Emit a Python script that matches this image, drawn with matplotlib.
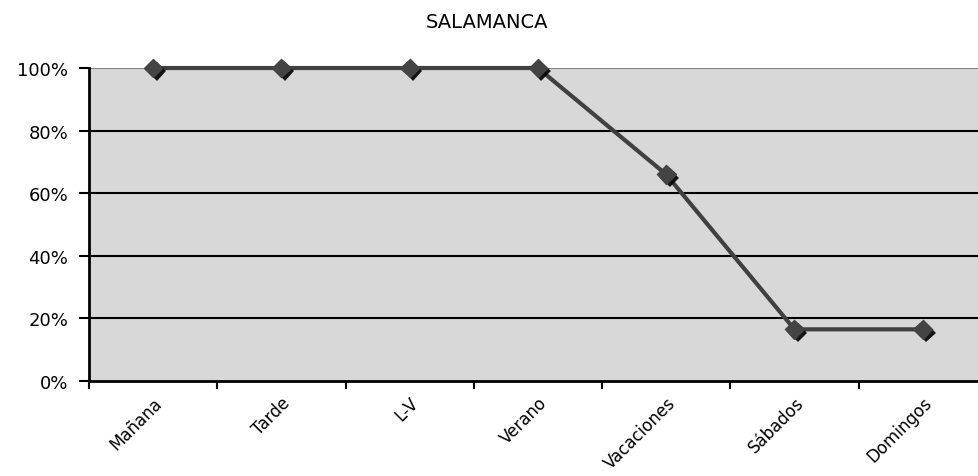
import matplotlib
matplotlib.use("Agg")
import matplotlib.pyplot as plt
import matplotlib.patheffects as pe
import numpy as np

# data
categories = ["Mañana", "Tarde", "L-V", "Verano", "Vacaciones", "Sábados", "Domingos"]
values = [1.00, 1.00, 1.00, 1.00, 0.66, 0.165, 0.165]
yticks = [0.0, 0.2, 0.4, 0.6, 0.8, 1.0]
ytick_labels = ["0%", "20%", "40%", "60%", "80%", "100%"]

plt.rcParams['font.family'] = ['DejaVu Sans']

fig = plt.figure(figsize=(9.79, 4.77), dpi=100)
ax = fig.add_axes([0.0909, 0.1992, 0.9171, 0.6561])
ax.set_facecolor("#d8d8d8")

x = np.arange(len(categories))
ax.set_xlim(-0.5, len(categories) - 0.5)
ax.set_ylim(0, 1.0)

for y in yticks[1:-1]:
    ax.axhline(y, color="black", lw=1.5, zorder=1)
ax.axhline(1.0, color="#808080", lw=1.5, zorder=1)

shadow = [pe.SimplePatchShadow(offset=(2.5, -2.5), shadow_rgbFace="black", alpha=0.9), pe.Normal()]
ax.plot(x, values, color="#404040", lw=3, zorder=3, clip_on=False)
ax.plot(x, values, ls="none", marker="D", ms=9.5, color="#444444", mec="#444444",
        zorder=4, clip_on=False, path_effects=shadow)

for side in ["top", "right"]:
    ax.spines[side].set_visible(False)
for side in ["left", "bottom"]:
    ax.spines[side].set_linewidth(2)
    ax.spines[side].set_color("black")

ax.set_yticks(yticks)
ax.set_yticklabels(ytick_labels, fontsize=13)
ax.tick_params(axis="y", length=7, width=1.5, pad=8)

ax.set_xticks(x)
ax.set_xticklabels(categories, rotation=45, ha="right", rotation_mode="anchor", fontsize=12)
ax.tick_params(axis="x", which="major", length=0, pad=9)
ax.set_xticks(np.arange(len(categories) + 1) - 0.5, minor=True)
ax.tick_params(axis="x", which="minor", length=6, width=1.5, direction="out")

fig.text(0.497, 0.952, "SALAMANCA", ha="center", va="center", fontsize=14)

fig.savefig("out.png", dpi=100)
